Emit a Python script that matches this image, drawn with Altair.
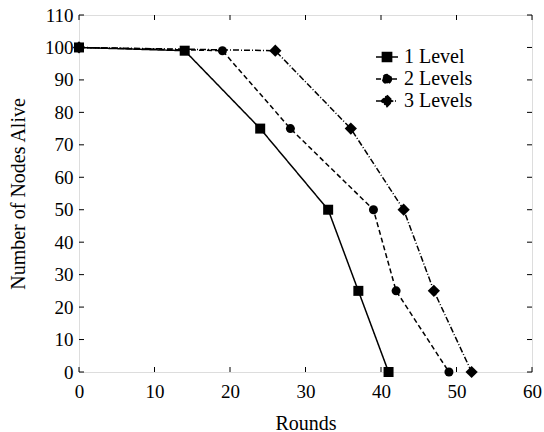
import altair as alt
import pandas as pd

series_names = ["1 Level", "2 Levels", "3 Levels"]
rounds_1 = [0, 14, 24, 33, 37, 41]
alive_1 = [100, 99, 75, 50, 25, 0]
rounds_2 = [0, 19, 28, 39, 42, 49]
alive_2 = [100, 99, 75, 50, 25, 0]
rounds_3 = [0, 26, 36, 43, 47, 52]
alive_3 = [100, 99, 75, 50, 25, 0]
x_ticks = [0, 10, 20, 30, 40, 50, 60]
y_ticks = [0, 10, 20, 30, 40, 50, 60, 70, 80, 90, 100, 110]

rows = []
for name, xs_, ys_ in zip(series_names, [rounds_1, rounds_2, rounds_3], [alive_1, alive_2, alive_3]):
    for i, (x, y) in enumerate(zip(xs_, ys_)):
        rows.append({"series": name, "Rounds": x, "Alive": y, "order": i})
df = pd.DataFrame(rows)

W, H = 453, 357
FONT = "Liberation Serif"

xs = alt.Scale(domain=[0, 60], nice=False)
ys = alt.Scale(domain=[0, 110], nice=False)

dash_range = [[1, 0], [5, 3], [6, 2, 1, 2]]
shape_names = ["square", "circle", "diamond"]
marker_sizes = [100, 81, 150]
legend_glyphs = [
    "M-1,0H1M-0.42,-0.42H0.42V0.42H-0.42Z",
    "M-1,0H1M0.4,0A0.4,0.4 0 1,1 -0.4,0A0.4,0.4 0 1,1 0.4,0Z",
    "M-1,0H1M0,-0.52L0.52,0L0,0.52L-0.52,0Z",
]

legend = alt.Legend(
    title=None, orient="none", legendX=292, legendY=26, padding=4,
    labelFont=FONT, labelFontSize=20, labelColor="black",
    symbolSize=484, symbolStrokeWidth=1.5, symbolStrokeColor="black",
    rowPadding=0, labelOffset=5,
)

x_axis = alt.Axis(
    values=x_ticks, title="Rounds", titleFont=FONT, titleFontSize=20, titleFontWeight="normal",
    titleColor="black", titlePadding=12, labelFont=FONT, labelFontSize=19, labelColor="black",
    labelPadding=10, ticks=False, domain=False, grid=False, labelFlush=False, labelOverlap=False,
)
y_axis = alt.Axis(
    values=y_ticks, title="Number of Nodes Alive", titleFont=FONT, titleFontSize=20,
    titleFontWeight="normal", titleColor="black", titlePadding=16,
    labelFont=FONT, labelFontSize=19, labelColor="black", labelPadding=6,
    ticks=False, domain=False, grid=False, labelOverlap=False,
)

base = alt.Chart(df)

lines = base.mark_line(strokeWidth=1.5, color="black").encode(
    x=alt.X("Rounds:Q", scale=xs, axis=x_axis),
    y=alt.Y("Alive:Q", scale=ys, axis=y_axis),
    strokeDash=alt.StrokeDash("series:N", scale=alt.Scale(domain=series_names, range=dash_range), legend=None),
    detail="series:N",
    order="order:Q",
)

point_layers = []
for name, shp, sz in zip(series_names, shape_names, marker_sizes):
    point_layers.append(
        base.transform_filter(alt.datum.series == name).mark_point(
            filled=True, color="black", opacity=1, shape=shp, size=sz
        ).encode(
            x=alt.X("Rounds:Q", scale=xs, axis=x_axis),
            y=alt.Y("Alive:Q", scale=ys, axis=y_axis),
        )
    )

legend_layer = base.transform_filter("datum.Rounds < -1000").mark_point(
    filled=True, stroke="black", strokeWidth=1.5, opacity=1
).encode(
    x=alt.X("Rounds:Q", scale=xs, axis=x_axis),
    y=alt.Y("Alive:Q", scale=ys, axis=y_axis),
    shape=alt.Shape("series:N", scale=alt.Scale(domain=series_names, range=legend_glyphs), legend=legend),
    color=alt.Color("series:N", scale=alt.Scale(domain=series_names, range=["black"] * 3), legend=legend),
    strokeDash=alt.StrokeDash("series:N", scale=alt.Scale(domain=series_names, range=dash_range), legend=legend),
)

xt = pd.DataFrame({"v": x_ticks})
yt = pd.DataFrame({"v": y_ticks})

bottom_ticks = alt.Chart(xt).mark_rule(color="black", strokeWidth=1).encode(
    x=alt.X("v:Q", scale=xs, axis=x_axis), y=alt.value(H), y2=alt.value(H - 5))
top_ticks = alt.Chart(xt).mark_rule(color="black", strokeWidth=1).encode(
    x=alt.X("v:Q", scale=xs, axis=x_axis), y=alt.value(0), y2=alt.value(5))
left_ticks = alt.Chart(yt).mark_rule(color="black", strokeWidth=1).encode(
    y=alt.Y("v:Q", scale=ys, axis=y_axis), x=alt.value(0), x2=alt.value(5))
right_ticks = alt.Chart(yt).mark_rule(color="black", strokeWidth=1).encode(
    y=alt.Y("v:Q", scale=ys, axis=y_axis), x=alt.value(W), x2=alt.value(W - 5))

chart = alt.layer(
    lines, *point_layers, legend_layer, bottom_ticks, top_ticks, left_ticks, right_ticks
).resolve_scale(strokeDash="independent", shape="independent", color="independent").properties(
    width=W, height=H,
    autosize=alt.AutoSizeParams(type="none"),
    padding={"left": 79, "top": 15, "right": 12, "bottom": 60},
).configure_view(stroke="black", strokeWidth=1.5).configure(background="white")

chart.save("out.html", embed_options={"renderer": "svg", "actions": False})
